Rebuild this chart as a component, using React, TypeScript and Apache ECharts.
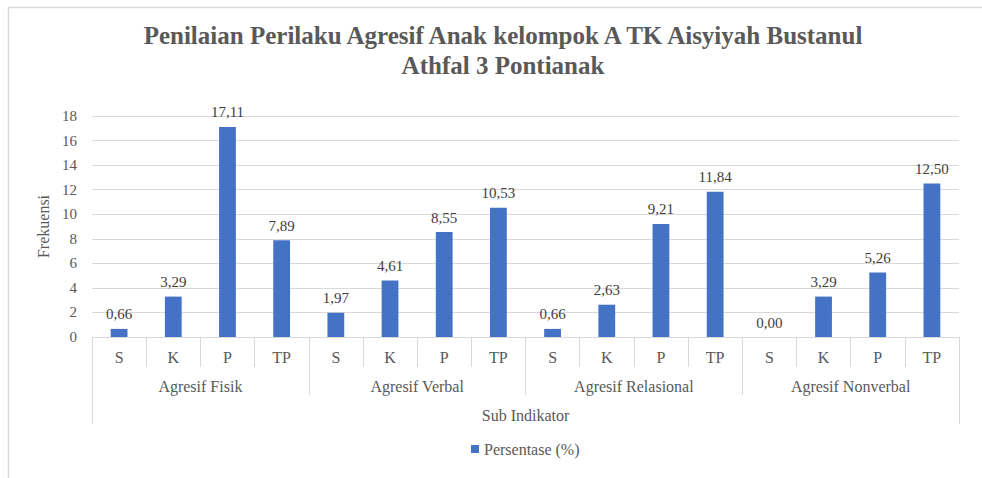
import React, { useEffect, useRef } from "react";
import * as echarts from "echarts";

const innerLabels = ["S", "K", "P", "TP", "S", "K", "P", "TP", "S", "K", "P", "TP", "S", "K", "P", "TP"];
const groupLabels = ["Agresif Fisik", "Agresif Verbal", "Agresif Relasional", "Agresif Nonverbal"];
const outerLabel = ["Sub Indikator"];
const seriesName = "Persentase (%)";
const values = [0.66, 3.29, 17.11, 7.89, 1.97, 4.61, 8.55, 10.53, 0.66, 2.63, 9.21, 11.84, 0.0, 3.29, 5.26, 12.5];
const yTicks = { min: 0, max: 18, interval: 2 };

const FONT = "Times New Roman, Liberation Serif, DejaVu Serif, serif";
const TXT = "#595959";
const LINE = "#d9d9d9";

export default function App() {
  const ref = useRef<HTMLDivElement>(null);
  useEffect(() => {
    if (!ref.current) return;
    const chart = echarts.init(ref.current, undefined, { renderer: "svg" });
    const axisBase = {
      type: "category",
      gridIndex: 0,
      position: "bottom",
      axisLine: { show: false },
      splitLine: { show: false },
    };
    chart.setOption({
      animation: false,
      backgroundColor: "#ffffff",
      textStyle: { fontFamily: FONT },
      title: {
        text: "Penilaian Perilaku Agresif Anak kelompok A TK Aisyiyah Bustanul\nAthfal 3 Pontianak",
        left: 498,
        textAlign: "center",
        top: 15,
        textStyle: {
          fontFamily: FONT,
          fontSize: 25,
          fontWeight: "bold",
          color: TXT,
          lineHeight: 30,
        },
      },
      grid: { left: 92, right: 23, top: 116, bottom: 141, containLabel: false },
      legend: {
        data: [seriesName],
        left: 466,
        top: 436,
        itemWidth: 8,
        itemHeight: 8,
        icon: "rect",
        textStyle: { fontFamily: FONT, fontSize: 16, color: TXT },
      },
      xAxis: [
        {
          ...axisBase,
          data: innerLabels,
          axisLine: { show: true, lineStyle: { color: LINE, width: 1 } },
          axisTick: { show: true, length: 30, lineStyle: { color: LINE } },
          axisLabel: { interval: 0, margin: 12, fontSize: 16, color: TXT, fontFamily: FONT },
        },
        {
          ...axisBase,
          data: groupLabels,
          axisTick: { show: true, length: 58, lineStyle: { color: LINE } },
          axisLabel: { interval: 0, margin: 41, fontSize: 16, color: TXT, fontFamily: FONT },
        },
        {
          ...axisBase,
          data: outerLabel,
          axisTick: { show: true, length: 87, lineStyle: { color: LINE } },
          axisLabel: { interval: 0, margin: 70, fontSize: 16, color: TXT, fontFamily: FONT },
        },
      ],
      yAxis: {
        type: "value",
        min: yTicks.min,
        max: yTicks.max,
        interval: yTicks.interval,
        name: "Frekuensi",
        nameLocation: "middle",
        nameRotate: 90,
        nameGap: 35,
        nameTextStyle: { fontFamily: FONT, fontSize: 16, color: TXT },
        axisLine: { show: false },
        axisTick: { show: false },
        axisLabel: { margin: 15, fontSize: 15, color: TXT, fontFamily: FONT },
        splitLine: { lineStyle: { color: LINE, width: 1 } },
      },
      series: [
        {
          name: seriesName,
          type: "bar",
          xAxisIndex: 0,
          data: values,
          barWidth: "31%",
          itemStyle: { color: "#4472C4" },
          label: {
            show: true,
            position: "top",
            distance: 7,
            fontSize: 15,
            color: "#404040",
            fontFamily: FONT,
            formatter: (p: any) => Number(p.value).toFixed(2).replace(".", ","),
          },
        },
      ],
      graphic: [
        {
          type: "line",
          shape: { x1: 8.5, y1: 7, x2: 8.5, y2: 478 },
          style: { stroke: LINE, lineWidth: 1.5 },
        },
        {
          type: "line",
          shape: { x1: 8, y1: 7.5, x2: 982, y2: 7.5 },
          style: { stroke: LINE, lineWidth: 1.5 },
        },
      ],
    });
    return () => chart.dispose();
  }, []);
  return (
    <div
      ref={ref}
      style={{ position: "absolute", left: 0, top: 0, width: 982, height: 478 }}
    />
  );
}
